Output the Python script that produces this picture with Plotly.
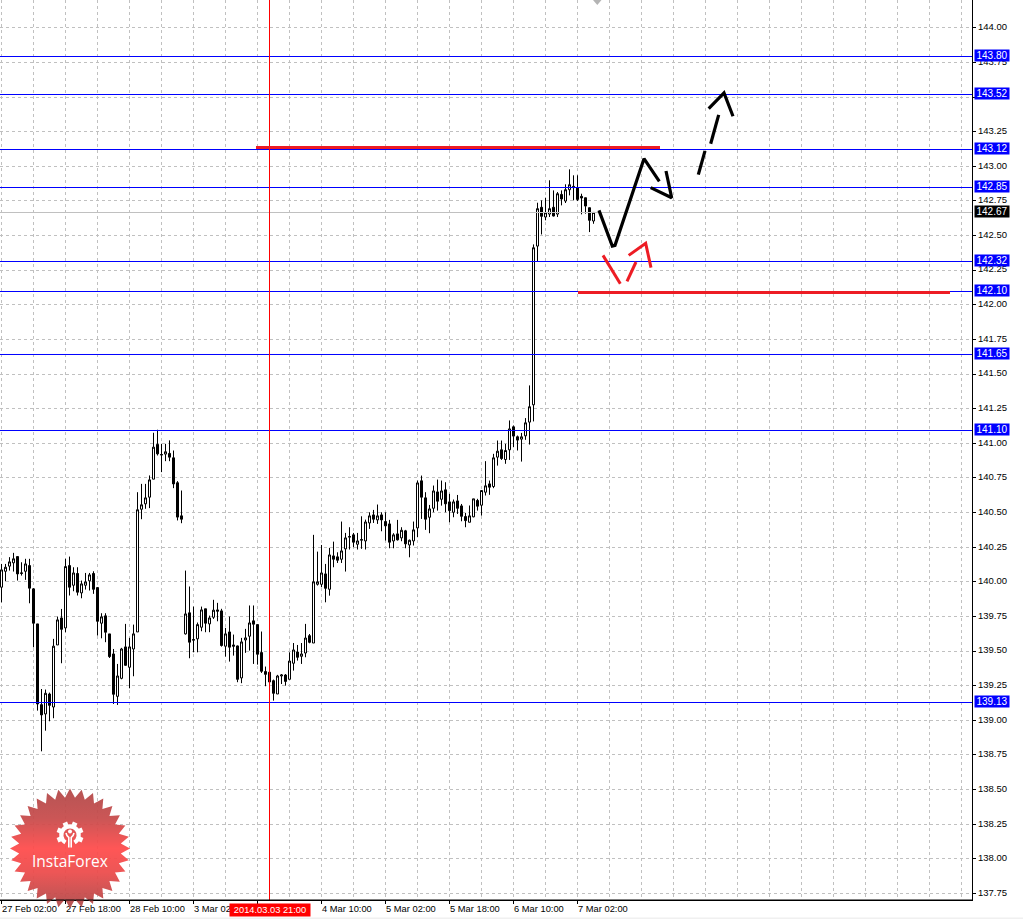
import base64, math
import plotly.graph_objects as go

# Candles, oldest first (USD/JPY hourly)
opens = [139.961,140.076,140.113,140.137,140.182,140.060,140.076,140.117,139.949,139.696,139.113,139.046,139.190,139.096,139.544,139.739,139.667,140.117,139.975,140.060,
139.920,139.975,140.007,140.060,139.958,139.701,139.754,139.624,139.479,139.173,139.303,139.530,139.383,139.515,139.638,140.524,140.563,140.611,140.741,140.992,
140.915,140.922,140.927,140.895,140.715,140.476,139.624,139.776,139.578,139.588,139.672,139.805,139.696,139.744,139.797,139.790,139.535,139.638,139.544,139.537,
139.306,139.580,139.607,139.718,139.691,139.489,139.352,139.347,139.286,139.190,139.320,139.327,139.296,139.412,139.493,139.462,139.486,139.611,139.558,139.982,
139.982,140.057,139.946,140.187,140.180,140.163,140.238,140.322,140.339,140.271,140.300,140.295,140.425,140.483,140.447,140.483,140.435,140.418,140.295,140.346,
140.317,140.368,140.266,140.295,140.389,140.729,140.606,140.466,140.531,140.649,140.596,140.664,140.577,140.502,140.584,140.548,140.471,140.430,140.469,140.587,
140.553,140.647,140.707,140.688,140.900,140.953,140.883,140.953,141.119,141.047,141.030,141.054,141.153,141.278,142.424,142.704,142.634,142.655,142.704,142.655,
142.797,142.749,142.831,142.855,142.843,142.783,142.773,142.701,142.605]
highs = [140.129,140.129,140.178,140.209,140.182,140.141,140.166,140.166,139.954,139.696,139.226,139.222,139.200,139.588,139.749,139.804,140.166,140.182,140.105,140.105,
140.009,140.064,140.064,140.076,139.961,139.773,139.773,139.624,139.515,139.407,139.523,139.696,139.595,139.691,140.647,140.707,140.707,140.768,141.076,141.098,
140.996,140.996,141.021,140.948,140.727,140.659,140.081,139.966,139.821,139.706,139.821,139.805,139.756,139.870,139.848,139.805,139.667,139.749,139.619,139.540,
139.595,139.660,139.829,139.829,139.691,139.641,139.388,139.347,139.294,139.328,139.334,139.334,139.491,139.558,139.544,139.558,139.696,139.623,140.339,140.218,
140.266,140.129,140.245,140.290,140.213,140.435,140.353,140.394,140.353,140.353,140.473,140.449,140.502,140.519,140.558,140.502,140.502,140.447,140.351,140.447,
140.394,140.375,140.305,140.435,140.731,140.767,140.647,140.555,140.695,140.738,140.731,140.719,140.635,140.594,140.627,140.562,140.498,140.551,140.599,140.599,
140.659,140.871,140.731,140.924,141.020,141.020,140.996,141.165,141.129,141.056,141.075,141.182,141.418,142.436,142.737,142.754,142.773,142.899,142.826,142.814,
142.826,142.870,142.978,142.935,142.935,142.802,142.773,142.701,142.667]
lows = [139.852,140.004,140.081,140.074,140.009,140.045,140.014,139.845,139.527,139.070,138.776,138.925,138.993,139.015,139.544,139.412,139.636,139.901,139.932,139.901,
139.881,139.944,139.937,139.913,139.612,139.592,139.564,139.450,139.118,139.111,139.296,139.395,139.231,139.318,139.638,140.452,140.527,140.532,140.741,140.912,
140.792,140.871,140.871,140.676,140.443,140.423,139.619,139.448,139.491,139.491,139.643,139.636,139.636,139.732,139.715,139.532,139.460,139.424,139.467,139.275,
139.268,139.487,139.503,139.407,139.402,139.342,139.246,139.246,139.142,139.190,139.262,139.250,139.296,139.359,139.431,139.407,139.455,139.556,139.558,139.973,
139.961,139.852,139.900,140.105,140.136,140.136,140.074,140.233,140.250,140.233,140.238,140.233,140.382,140.425,140.418,140.365,140.298,140.242,140.242,140.298,
140.293,140.242,140.177,140.262,140.322,140.454,140.375,140.351,140.502,140.514,140.550,140.502,140.430,140.466,140.490,140.437,140.394,140.430,140.466,140.514,
140.478,140.623,140.628,140.676,140.839,140.880,140.852,140.880,140.972,140.948,140.868,141.025,140.991,141.158,142.313,142.508,142.610,142.634,142.638,142.634,
142.718,142.735,142.790,142.754,142.749,142.653,142.658,142.525,142.585]
closes = [140.086,140.105,140.144,140.166,140.057,140.064,140.129,139.954,139.701,139.118,139.039,139.195,139.108,139.535,139.725,139.657,140.110,139.961,140.064,139.925,
139.985,139.999,140.050,139.946,139.715,139.747,139.636,139.460,139.188,139.320,139.515,139.397,139.530,139.624,140.520,140.556,140.606,140.736,140.972,140.924,
140.919,140.939,140.900,140.707,140.467,140.452,139.768,139.564,139.583,139.691,139.797,139.701,139.739,139.795,139.788,139.540,139.624,139.528,139.535,139.296,
139.566,139.595,139.703,139.694,139.477,139.354,139.332,139.277,139.195,139.320,139.327,139.281,139.428,139.508,139.455,139.479,139.594,139.563,140.000,140.000,
140.064,139.953,140.194,140.163,140.156,140.223,140.317,140.327,140.286,140.295,140.305,140.432,140.476,140.452,140.476,140.447,140.404,140.286,140.339,140.303,
140.372,140.274,140.300,140.375,140.714,140.611,140.452,140.526,140.656,140.582,140.656,140.563,140.514,140.577,140.531,140.473,140.442,140.476,140.599,140.546,
140.659,140.693,140.683,140.895,140.943,140.890,140.948,141.104,141.052,141.023,141.047,141.148,141.264,142.412,142.694,142.639,142.665,142.694,142.641,142.802,
142.764,142.831,142.867,142.846,142.761,142.771,142.713,142.610,142.667]
bars = list(range(len(opens)))

date_ticks = list(range(0, 145, 16))
date_labels = ["27 Feb 02:00", "27 Feb 18:00", "28 Feb 10:00", "3 Mar 02:00\u00a0\u00a0", "",
               "4 Mar 10:00\u00a0\u00a0", "5 Mar 02:00\u00a0\u00a0", "5 Mar 18:00\u00a0\u00a0", "6 Mar 10:00\u00a0\u00a0", "7 Mar 02:00\u00a0\u00a0"]

# Horizontal level lines (exact price) and the rounded price shown in their tag
level_prices = [143.7928, 143.5184, 143.1213, 142.8469, 142.3126, 142.0960, 141.6412, 141.0924, 139.1285]
level_labels = ["143.80", "143.52", "143.12", "142.85", "142.32", "142.10", "141.65", "141.10", "139.13"]
last_price = 142.6664
last_label = "142.67"
crosshair_bar = 67
crosshair_label = "2014.03.03 21:00"

# Hand-drawn forecast strokes: bar position and price
black_x = [149.375, 152.705, 153.375, 160.625, 164.455, None, 162.295, 167.545, 166.125, None, 174.205, 175.875, None, 177.295, 179.295, None, 176.795, 180.625, 182.875]
black_y = [142.682, 142.424, 142.429, 143.055, 142.891, None, 142.846, 142.773, 142.966, None, 142.940, 143.111, None, 143.163, 143.371, None, 143.416, 143.530, 143.361]
red_x = [150.375, 154.705, None, 156.375, 158.625, None, 156.795, 161.045, 162.375]
red_y = [142.357, 142.152, None, 142.169, 142.309, None, 142.357, 142.444, 142.268]
red_level_x = [63.625, 164.625, None, 144.125, 237.125]
red_level_y = [143.1357, 143.1357, None, 142.0888, 142.0888]

X0, X1 = -0.375, 242.625
Y0, Y1 = 137.70253, 144.20072
W, H = 972, 900  # plot area in pixels

FONT = "Liberation Sans"
BLUE = "#0000ff"
GRID = "#c0c0c0"

fig = go.Figure()
fig.add_trace(go.Candlestick(
    x=bars, open=opens, high=highs, low=lows, close=closes, whiskerwidth=0,
    increasing=dict(line=dict(color="#000000", width=1), fillcolor="#ffffff"),
    decreasing=dict(line=dict(color="#000000", width=1), fillcolor="#000000"),
    hoverinfo="skip", showlegend=False))

fig.add_trace(go.Scatter(x=[X0, X1], y=[last_price, last_price], mode="lines",
                         line=dict(color=GRID, width=1), hoverinfo="skip", showlegend=False))
for lv in level_prices:
    fig.add_trace(go.Scatter(x=[X0, X1], y=[lv, lv], mode="lines",
                             line=dict(color=BLUE, width=1), hoverinfo="skip", showlegend=False))
fig.add_trace(go.Scatter(x=[crosshair_bar, crosshair_bar], y=[Y0, Y1], mode="lines",
                         line=dict(color="#ff0000", width=1), hoverinfo="skip", showlegend=False))
fig.add_trace(go.Scatter(x=red_level_x, y=red_level_y, mode="lines",
                         line=dict(color="#ed1c24", width=3), hoverinfo="skip", showlegend=False))
fig.add_trace(go.Scatter(x=red_x, y=red_y, mode="lines",
                         line=dict(color="#ed1c24", width=3), hoverinfo="skip", showlegend=False))
fig.add_trace(go.Scatter(x=black_x, y=black_y, mode="lines",
                         line=dict(color="#000000", width=3.2), hoverinfo="skip", showlegend=False))

annotations = []
for lv, lab in zip(level_prices, level_labels):
    annotations.append(dict(xref="paper", yref="y", x=974 / W, y=lv, yshift=1, xanchor="left", yanchor="middle",
                            text=lab, showarrow=False, bgcolor=BLUE, borderpad=0, width=34, height=11,
                            font=dict(family=FONT, size=10, color="#ffffff"), align="center"))
annotations.append(dict(xref="paper", yref="y", x=974 / W, y=last_price, yshift=1, xanchor="left", yanchor="middle",
                        text=last_label, showarrow=False, bgcolor="#000000", borderpad=0, width=34, height=11,
                        font=dict(family=FONT, size=10, color="#ffffff"), align="center"))
annotations.append(dict(xref="x", yref="paper", x=crosshair_bar, y=(H - 909.5) / H, xanchor="center", yanchor="middle",
                        text=crosshair_label, showarrow=False, bgcolor="#ff0000", borderpad=0, width=80, height=12,
                        font=dict(family=FONT, size=9.3, color="#ffffff"), align="center"))
annotations.append(dict(xref="paper", yref="paper", x=70 / W, y=(H - 860.5) / H, xanchor="center", yanchor="middle",
                        text="InstaForex", showarrow=False,
                        font=dict(family="Open Sans", size=15.5, color="#ffffff")))

# Logo badge (decoration): serrated disc with vertical gradient and a gear
S = 124
cx = cy = S / 2
spikes = 32
pts = []
for k in range(spikes * 2):
    r = 60 if k % 2 == 0 else 51
    a = math.pi * k / spikes - math.pi / 2
    pts.append(f"{cx + r * math.cos(a):.1f},{cy + r * math.sin(a):.1f}")
gx, gy = cx, cy - 13.5
teeth = ""
for k in range(8):
    a = 22.5 + 45 * k
    if k in (3, 4):
        continue
    teeth += f'<rect x="{gx - 2.4:.1f}" y="{gy - 13.5:.1f}" width="4.8" height="5" fill="#fff" transform="rotate({a} {gx} {gy})"/>'
svg = f'''<svg xmlns="http://www.w3.org/2000/svg" width="{S}" height="{S}" viewBox="0 0 {S} {S}">
<defs><linearGradient id="g" x1="0" y1="0" x2="0" y2="1">
<stop offset="0" stop-color="#b24a4a"/><stop offset="0.25" stop-color="#c84c4c"/><stop offset="0.5" stop-color="#ff4c4c"/>
<stop offset="0.7" stop-color="#ec4c4c"/><stop offset="1" stop-color="#ae4a4a"/></linearGradient></defs>
<polygon points="{' '.join(pts)}" fill="url(#g)"/>
<path d="M {gx - 4.5:.1f} {gy + 7.5:.1f} A 8.7 8.7 0 1 1 {gx + 4.5:.1f} {gy + 7.5:.1f}" fill="none" stroke="#fff" stroke-width="4.2"/>
{teeth}
<circle cx="{gx}" cy="{gy - 3.5}" r="2" fill="#fff"/>
<path d="M {gx - 4} {gy - 2} Q {gx - 3.2} {gy + 1.5} {gx - 1.2} {gy + 2.5} L {gx - 1.2} {gy + 12.5} M {gx + 4} {gy - 2} Q {gx + 3.2} {gy + 1.5} {gx + 1.2} {gy + 2.5} L {gx + 1.2} {gy + 12.5}" fill="none" stroke="#fff" stroke-width="1.6"/>
</svg>'''
logo = "data:image/svg+xml;base64," + base64.b64encode(svg.encode()).decode()

images = [dict(source=logo, xref="paper", yref="paper", x=(70 - S / 2) / W, y=(H - (848.5 - S / 2)) / H,
               sizex=S / W, sizey=S / H, xanchor="left", yanchor="top", sizing="stretch",
               opacity=0.94, layer="above")]

shapes = [
    # black frame drawn over the badge
    dict(type="line", xref="paper", yref="paper", x0=0, x1=1, y0=0, y1=0, line=dict(color="#000000", width=1)),
    # bottom strip of the window
    dict(type="rect", xref="paper", yref="paper", x0=0, x1=1023 / W, y0=(H - 917.5) / H, y1=(H - 920) / H,
         fillcolor="#f0f0f0", line=dict(width=0)),
    # chart-shift marker
    dict(type="path", xref="paper", yref="paper",
         path=f"M {593 / W} 1 L {601.5 / W} 1 L {597.3 / W} {(H - 5) / H} Z", fillcolor="#b4b4b4", line=dict(width=0)),
]

fig.update_layout(
    width=1023, height=919, margin=dict(l=0, r=51, t=0, b=19, pad=0, autoexpand=False),
    paper_bgcolor="#ffffff", plot_bgcolor="#ffffff", showlegend=False, hovermode=False,
    font=dict(family=FONT, size=10, color="#000000"),
    boxgap=0.3, boxgroupgap=0.2857,
    annotations=annotations, shapes=shapes, images=images,
    xaxis=dict(type="linear", range=[X0, X1], rangeslider=dict(visible=False),
               tickmode="array", tickvals=date_ticks, ticktext=date_labels,
               ticks="outside", ticklen=3, tickcolor="#000000", tickwidth=1,
               ticklabelshift=28, ticklabelstandoff=-3, tickangle=0,
               tickfont=dict(family=FONT, size=9.3, color="#000000"),
               showline=True, linecolor="#000000", linewidth=1, mirror=False, zeroline=False,
               showgrid=True, gridcolor=GRID, griddash="3px,3px", gridwidth=1,
               minor=dict(dtick=8, tick0=0, showgrid=True, gridcolor=GRID, griddash="3px,3px", gridwidth=1, ticks="")),
    yaxis=dict(side="right", range=[Y0, Y1], tick0=137.75, dtick=0.25, tickformat=".2f",
               ticks="outside", ticklen=3, tickcolor="#000000", tickwidth=1, ticklabelshift=-1,
               tickfont=dict(family=FONT, size=9.5, color="#000000"),
               showline=True, linecolor="#000000", linewidth=1, zeroline=False,
               showgrid=True, gridcolor=GRID, griddash="3px,3px", gridwidth=1),
)

fig.write_html("out.html", config=dict(displayModeBar=False), post_script="document.body.style.margin='0';document.body.style.overflow='hidden';")
